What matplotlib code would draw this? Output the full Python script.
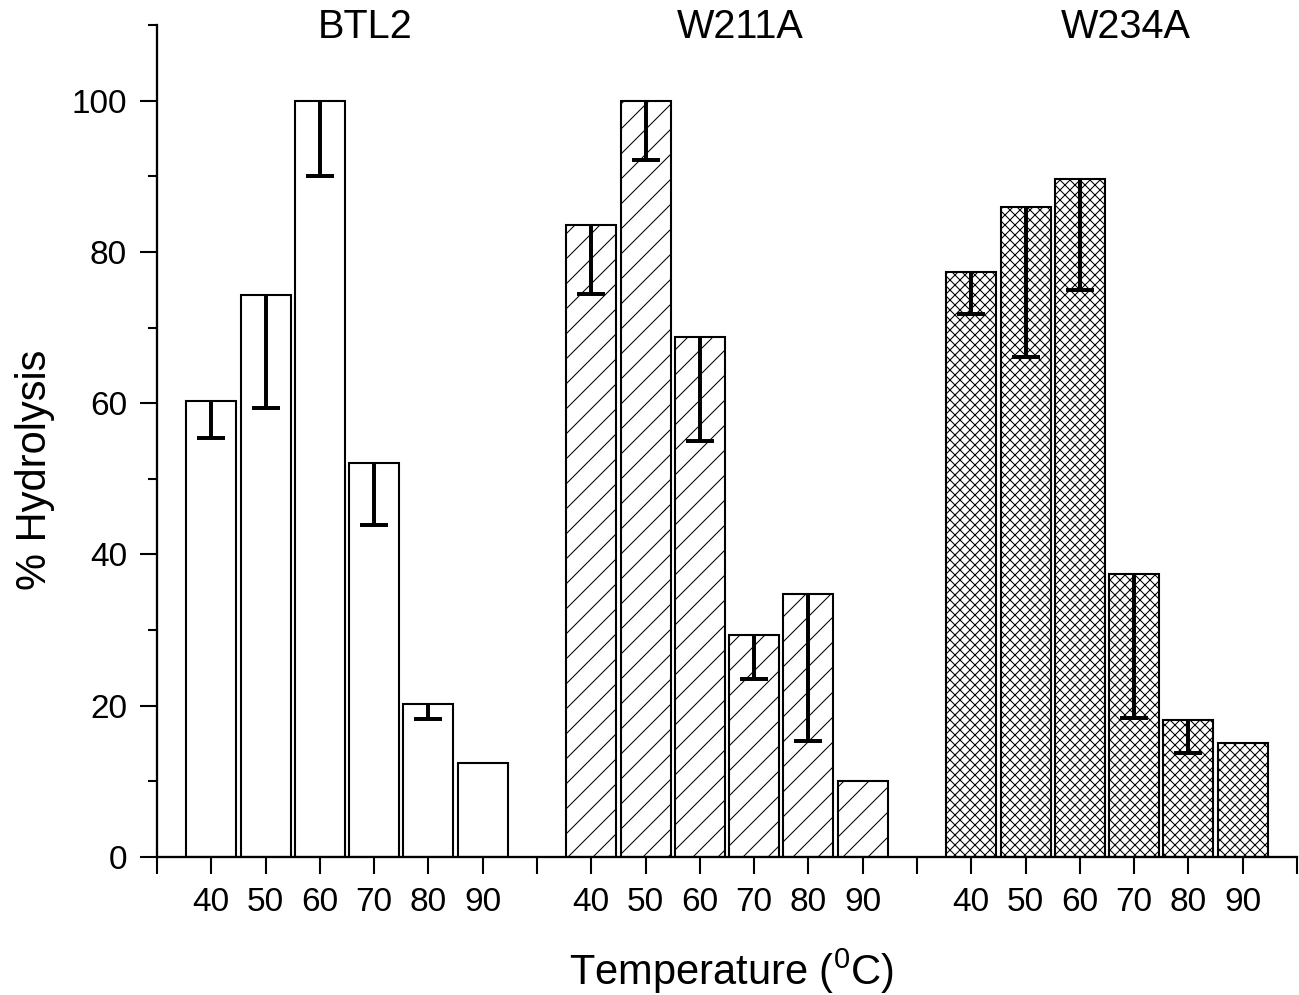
import numpy as np
import matplotlib
matplotlib.use("Agg")
import matplotlib.pyplot as plt

plt.rcParams['font.family'] = ['Liberation Sans', 'DejaVu Sans']
plt.rcParams['mathtext.fontset'] = 'custom'
plt.rcParams['mathtext.rm'] = 'Liberation Sans'
plt.rcParams['hatch.linewidth'] = 0.5
plt.rcParams['hatch.color'] = 'black'

# donnees
enzymes = ["BTL2", "W211A", "W234A"]
temperatures = ["40", "50", "60", "70", "80", "90"]
hydrolyse = [
    [60.3, 74.3, 100.0, 52.1, 20.2, 12.4],
    [83.6, 100.0, 68.7, 29.4, 34.8, 10.1],
    [77.4, 86.0, 89.7, 37.4, 18.1, 15.1],
]
# bas des barres d'erreur (nan = pas de barre)
erreur_bas = [
    [55.4, 59.4, 90.1, 43.9, 18.3, np.nan],
    [74.5, 92.1, 55.0, 23.5, 15.3, np.nan],
    [71.8, 66.1, 75.0, 18.4, 13.8, np.nan],
]
hachures = [None, "//", "xxxxx"]
pos_titres = [3.83, 10.74, 17.84]

n = len(temperatures)
pas = n + 1

fig = plt.figure(figsize=(1299 / 150, 995 / 150), dpi=150)
ax = fig.add_axes([157 / 1299, 1 - 857 / 995, (1297 - 157) / 1299, (857 - 25) / 995])

positions = []
for g, nom in enumerate(enzymes):
    x = 1 + g * pas + np.arange(n)
    positions.extend(x)
    haut = np.array(hydrolyse[g])
    bas = np.array(erreur_bas[g])
    ax.bar(x, haut, width=0.92, color="white", edgecolor="black",
           linewidth=1.0, hatch=hachures[g], zorder=1)
    ok = ~np.isnan(bas)
    eb = ax.errorbar(x[ok], haut[ok], yerr=[haut[ok] - bas[ok], np.zeros(ok.sum())],
                     fmt="none", ecolor="black", elinewidth=1.9, capsize=6.7,
                     capthick=1.9, zorder=3)
    eb[1][1].set_visible(False)
    ax.text(pos_titres[g], 109.7, nom, ha="center", va="center", fontsize=19,
            clip_on=False)

ax.set_xlim(0, 3 * pas)
ax.set_ylim(0, 110)

ax.set_xticks(np.arange(0, 3 * pas + 1))
etiquettes = [""] * (3 * pas + 1)
for p, t in zip(positions, temperatures * 3):
    etiquettes[int(p)] = t
ax.set_xticklabels(etiquettes)

ax.set_yticks(np.arange(0, 101, 20))
ax.set_yticks(np.arange(10, 111, 20), minor=True)

ax.tick_params(axis="both", which="major", direction="out", length=8.2,
               width=1.0, pad=6.2, labelsize=16)
ax.tick_params(axis="y", which="minor", direction="out", length=4.3, width=1.0)

for s in ["top", "right"]:
    ax.spines[s].set_visible(False)
for s in ["left", "bottom"]:
    ax.spines[s].set_linewidth(1.1)

ax.set_ylabel("% Hydrolysis", fontsize=20)
ax.yaxis.set_label_coords(-0.107, 0.465)
ax.set_xlabel(r"Temperature ($\mathregular{^{0}}$C)", fontsize=20)
ax.xaxis.set_label_coords((731 - 157) / (1297 - 157), -(971 - 857) / 832)
ax.xaxis.label.set_va("center")
ax.yaxis.label.set_va("center")

fig.savefig("out.png", dpi=150)
